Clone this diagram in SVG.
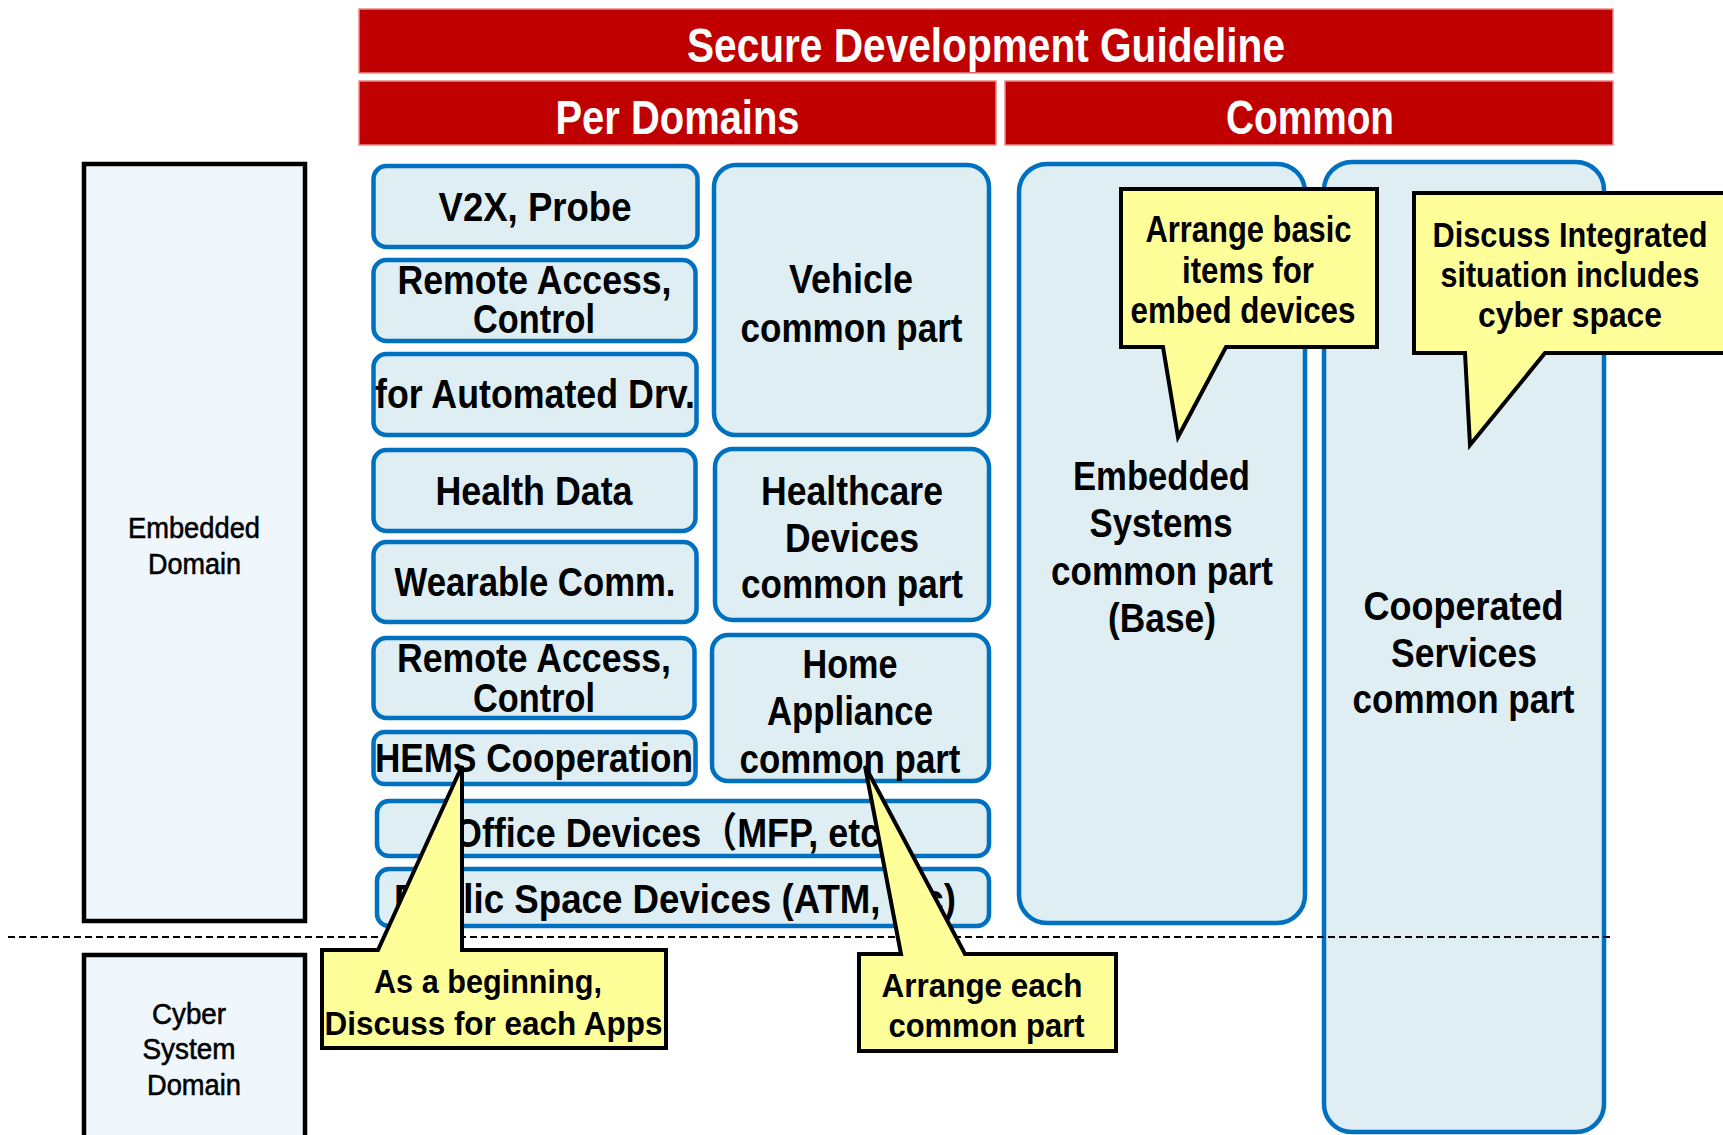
<svg xmlns="http://www.w3.org/2000/svg" width="1723" height="1135" viewBox="0 0 1723 1135">
  <style>
    .banner { fill: #C00000; stroke: #E98A8A; stroke-width: 1.5; }
    .bt { fill: #FFFFFF; font-family: "Liberation Sans", sans-serif; font-weight: bold; font-size: 48px; text-anchor: middle; }
    .dom { fill: #EFF7FD; stroke: #000000; stroke-width: 4.5; }
    .dt { fill: #000000; stroke: #000000; stroke-width: 0.6; font-family: "Liberation Sans", sans-serif; font-size: 30px; text-anchor: middle; }
    .box { fill: #DEEEF3; stroke: #0070C0; stroke-width: 4.5; }
    .tx { fill: #000000; font-family: "Liberation Sans", "Noto Sans CJK JP", sans-serif; font-weight: bold; font-size: 41px; text-anchor: middle; }
    .call { fill: #FFFF99; stroke: #000000; stroke-width: 4; stroke-linejoin: miter; }
    .ct { fill: #000000; font-family: "Liberation Sans", sans-serif; font-weight: bold; text-anchor: middle; }
    .divider { stroke: #000000; stroke-width: 2; stroke-dasharray: 7 4; fill: none; }
  </style>

  <!-- header banners -->
  <g id="banner-guideline">
    <rect class="banner" x="359" y="9" width="1254" height="64"/>
    <text class="bt" x="986" y="62" textLength="598" lengthAdjust="spacingAndGlyphs">Secure Development Guideline</text>
  </g>
  <g id="banner-per-domains">
    <rect class="banner" x="359" y="81" width="637" height="64"/>
    <text class="bt" x="677.5" y="134" textLength="244" lengthAdjust="spacingAndGlyphs">Per Domains</text>
  </g>
  <g id="banner-common">
    <rect class="banner" x="1005" y="81" width="608" height="64"/>
    <text class="bt" x="1310" y="134" textLength="168" lengthAdjust="spacingAndGlyphs">Common</text>
  </g>

  <!-- domain columns on the left -->
  <g id="embedded-domain">
    <rect class="dom" x="84" y="164" width="221" height="757"/>
    <text class="dt" x="194" y="538" textLength="132" lengthAdjust="spacingAndGlyphs">Embedded</text>
    <text class="dt" x="194.5" y="574" textLength="93" lengthAdjust="spacingAndGlyphs">Domain</text>
  </g>
  <g id="cyber-domain">
    <rect class="dom" x="84" y="955" width="221" height="200"/>
    <text class="dt" x="189" y="1024" textLength="74" lengthAdjust="spacingAndGlyphs">Cyber</text>
    <text class="dt" x="189" y="1059" textLength="93" lengthAdjust="spacingAndGlyphs">System</text>
    <text class="dt" x="194" y="1095" textLength="94" lengthAdjust="spacingAndGlyphs">Domain</text>
  </g>

  <!-- per-domain items -->
  <g id="v2x-probe">
    <rect class="box" x="373.5" y="166" width="324" height="81" rx="13"/>
    <text class="tx" x="535" y="221" textLength="193" lengthAdjust="spacingAndGlyphs">V2X, Probe</text>
  </g>
  <g id="vehicle-remote-access">
    <rect class="box" x="373.5" y="260" width="322" height="81" rx="13"/>
    <text class="tx" x="534.5" y="294" textLength="274" lengthAdjust="spacingAndGlyphs">Remote Access,</text>
    <text class="tx" x="534" y="333" textLength="122" lengthAdjust="spacingAndGlyphs">Control</text>
  </g>
  <g id="automated-driving">
    <rect class="box" x="373.5" y="354" width="323" height="81" rx="13"/>
    <text class="tx" x="535" y="408" textLength="320" lengthAdjust="spacingAndGlyphs">for Automated Drv.</text>
  </g>
  <g id="vehicle-common">
    <rect class="box" x="714" y="165" width="275" height="270" rx="22"/>
    <text class="tx" x="851" y="293" textLength="124" lengthAdjust="spacingAndGlyphs">Vehicle</text>
    <text class="tx" x="851.5" y="342" textLength="222" lengthAdjust="spacingAndGlyphs">common part</text>
  </g>
  <g id="health-data">
    <rect class="box" x="373.5" y="450" width="322" height="81" rx="13"/>
    <text class="tx" x="534" y="505" textLength="197" lengthAdjust="spacingAndGlyphs">Health Data</text>
  </g>
  <g id="wearable-comm">
    <rect class="box" x="373.5" y="542" width="323" height="80" rx="13"/>
    <text class="tx" x="535" y="596" textLength="281" lengthAdjust="spacingAndGlyphs">Wearable Comm.</text>
  </g>
  <g id="healthcare-common">
    <rect class="box" x="715" y="449" width="274" height="171" rx="18"/>
    <text class="tx" x="852" y="505" textLength="182" lengthAdjust="spacingAndGlyphs">Healthcare</text>
    <text class="tx" x="852" y="552" textLength="134" lengthAdjust="spacingAndGlyphs">Devices</text>
    <text class="tx" x="852" y="598" textLength="222" lengthAdjust="spacingAndGlyphs">common part</text>
  </g>
  <g id="home-remote-access">
    <rect class="box" x="373.5" y="638" width="321" height="80" rx="13"/>
    <text class="tx" x="534" y="672" textLength="274" lengthAdjust="spacingAndGlyphs">Remote Access,</text>
    <text class="tx" x="534" y="712" textLength="122" lengthAdjust="spacingAndGlyphs">Control</text>
  </g>
  <g id="hems-cooperation">
    <rect class="box" x="373.5" y="732" width="322" height="52" rx="11"/>
    <text class="tx" x="534" y="772" textLength="318" lengthAdjust="spacingAndGlyphs">HEMS Cooperation</text>
  </g>
  <g id="home-appliance-common">
    <rect class="box" x="712" y="635" width="277" height="146" rx="16"/>
    <text class="tx" x="850" y="678" textLength="95" lengthAdjust="spacingAndGlyphs">Home</text>
    <text class="tx" x="850" y="725" textLength="166" lengthAdjust="spacingAndGlyphs">Appliance</text>
    <text class="tx" x="850" y="773" textLength="221" lengthAdjust="spacingAndGlyphs">common part</text>
  </g>
  <g id="office-devices">
    <rect class="box" x="377" y="801" width="612" height="55" rx="12"/>
    <text class="tx" x="685" y="847" textLength="462" lengthAdjust="spacingAndGlyphs">Office Devices（MFP, etc）</text>
  </g>
  <g id="public-space-devices">
    <rect class="box" x="377" y="869" width="612" height="57" rx="12"/>
    <text class="tx" x="675" y="913" textLength="562" lengthAdjust="spacingAndGlyphs">Public Space Devices (ATM, etc)</text>
  </g>

  <!-- common parts -->
  <g id="embedded-systems-common">
    <rect class="box" x="1019" y="164" width="286" height="759" rx="28"/>
    <text class="tx" x="1161.5" y="490" textLength="177" lengthAdjust="spacingAndGlyphs">Embedded</text>
    <text class="tx" x="1161" y="537" textLength="143" lengthAdjust="spacingAndGlyphs">Systems</text>
    <text class="tx" x="1162" y="585" textLength="222" lengthAdjust="spacingAndGlyphs">common part</text>
    <text class="tx" x="1162" y="632" textLength="108" lengthAdjust="spacingAndGlyphs">(Base)</text>
  </g>
  <g id="cooperated-services-common">
    <rect class="box" x="1324" y="162" width="280" height="970" rx="28"/>
    <text class="tx" x="1463.5" y="620" textLength="200" lengthAdjust="spacingAndGlyphs">Cooperated</text>
    <text class="tx" x="1464" y="667" textLength="146" lengthAdjust="spacingAndGlyphs">Services</text>
    <text class="tx" x="1463.5" y="713" textLength="222" lengthAdjust="spacingAndGlyphs">common part</text>
  </g>

  <!-- boundary between embedded and cyber domains -->
  <g id="divider">
    <line class="divider" x1="8" y1="937" x2="1611" y2="937"/>
  </g>

  <!-- callouts -->
  <g id="note-embed-basics">
    <path class="call" d="M1121,189 H1377 V347 H1226 L1178,437 L1163,347 H1121 Z"/>
    <text class="ct" x="1248.5" y="242" font-size="37" textLength="206" lengthAdjust="spacingAndGlyphs">Arrange basic</text>
    <text class="ct" x="1248" y="283" font-size="37" textLength="132" lengthAdjust="spacingAndGlyphs">items for</text>
    <text class="ct" x="1243" y="323" font-size="37" textLength="225" lengthAdjust="spacingAndGlyphs">embed devices</text>
  </g>
  <g id="note-integrated">
    <path class="call" d="M1414,193 H1730 V353 H1545 L1470,445 L1465,353 H1414 Z"/>
    <text class="ct" x="1570" y="247" font-size="35" textLength="275" lengthAdjust="spacingAndGlyphs">Discuss Integrated</text>
    <text class="ct" x="1570" y="287" font-size="35" textLength="259" lengthAdjust="spacingAndGlyphs">situation includes</text>
    <text class="ct" x="1570" y="327" font-size="35" textLength="184" lengthAdjust="spacingAndGlyphs">cyber space</text>
  </g>
  <g id="note-each-app">
    <path class="call" d="M322,950 H378 L462,766 V950 H666 V1048 H322 Z"/>
    <text class="ct" x="488" y="993" font-size="34" textLength="228" lengthAdjust="spacingAndGlyphs">As a beginning,</text>
    <text class="ct" x="493.5" y="1035" font-size="34" textLength="338" lengthAdjust="spacingAndGlyphs">Discuss for each Apps</text>
  </g>
  <g id="note-each-common">
    <path class="call" d="M859,954 H901 L865,766 L965,954 H1116 V1051 H859 Z"/>
    <text class="ct" x="982" y="997" font-size="34" textLength="201" lengthAdjust="spacingAndGlyphs">Arrange each</text>
    <text class="ct" x="986.5" y="1037" font-size="34" textLength="196" lengthAdjust="spacingAndGlyphs">common part</text>
  </g>
</svg>
